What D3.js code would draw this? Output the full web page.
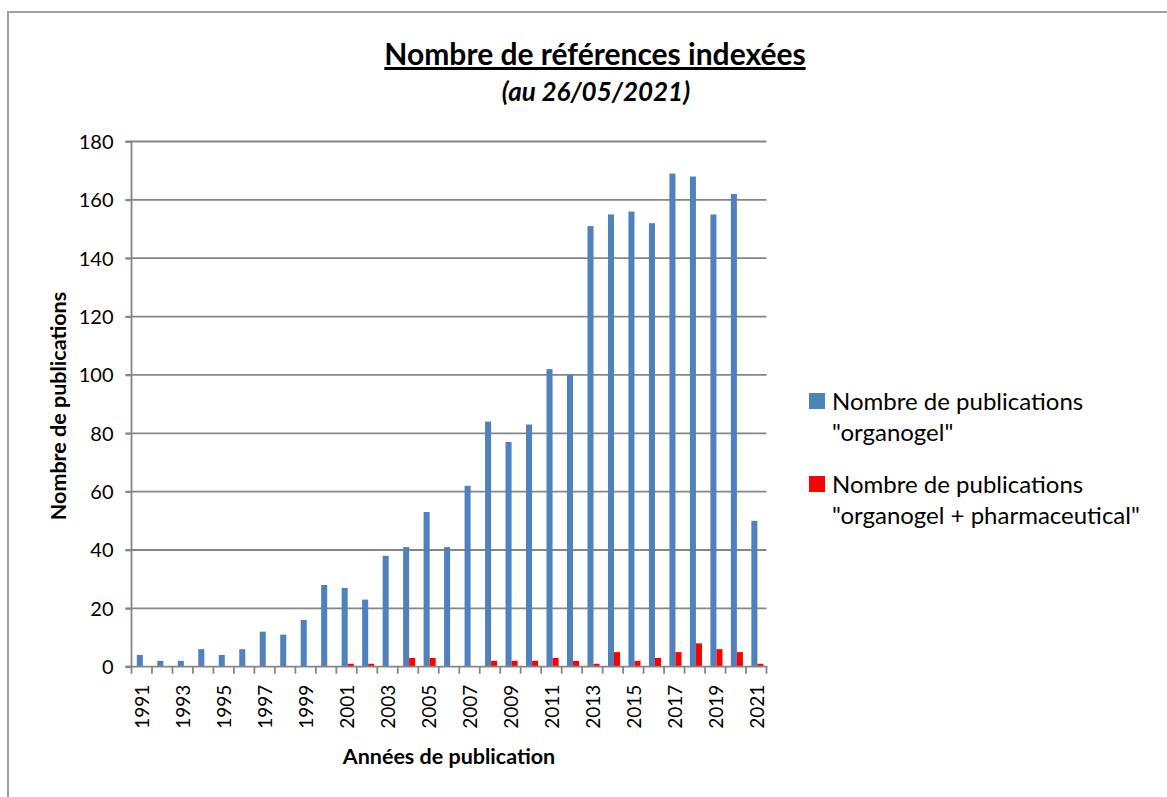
<!DOCTYPE html>
<html>
<head>
<meta charset="utf-8">
<script src="https://cdn.jsdelivr.net/npm/d3@7"></script>
<style>
  html, body { margin: 0; padding: 0; background: #fff; }
  svg { display: block; font-family: Lato, "Noto Sans", sans-serif; }
</style>
</head>
<body>
<svg id="chart" width="1167" height="797"></svg>
<script>
const years = [1991,1992,1993,1994,1995,1996,1997,1998,1999,2000,2001,2002,2003,2004,2005,2006,2007,2008,2009,2010,2011,2012,2013,2014,2015,2016,2017,2018,2019,2020,2021];
const organogel = [4,2,2,6,4,6,12,11,16,28,27,23,38,41,53,41,62,84,77,83,102,100,151,155,156,152,169,168,155,162,50];
const pharma = [0,0,0,0,0,0,0,0,0,0,1,1,0,3,3,0,0,2,2,2,3,2,1,5,2,3,5,8,6,5,1];
const seriesNames = ["Nombre de publications \"organogel\"", "Nombre de publications \"organogel + pharmaceutical\""];
const seriesColors = ["#4f81bd", "#ff0000"];
const yTicks = [0,20,40,60,80,100,120,140,160,180];
const titleText = "Nombre de références indexées";
const subtitleText = "(au 26/05/2021)";
const xTitle = "Années de publication";
const yTitle = "Nombre de publications";

const svg = d3.select("#chart");
const grey = "#868686";

// outer frame
svg.append("rect").attr("x", 8).attr("y", 12).attr("width", 1180).attr("height", 800)
  .attr("fill", "none").attr("stroke", "#a0a0a0").attr("stroke-width", 2);

const pLeft = 131.5, pRight = 766.5, pTop = 141.5, pBottom = 666.7;

const x = d3.scaleBand().domain(years).range([pLeft, pRight]).padding(0);
const bw = x.bandwidth();
const x1 = d3.scaleBand().domain([0, 1]).range([bw * 0.26, bw * 0.85]).padding(0);
const y = d3.scaleLinear().domain([0, 180]).range([pBottom, pTop]);

// gridlines
svg.append("g").selectAll("line").data(yTicks.filter(d => d > 0)).join("line")
  .attr("x1", pLeft - 6).attr("x2", pRight)
  .attr("y1", d => y(d)).attr("y2", d => y(d))
  .attr("stroke", grey).attr("stroke-width", 1.8);

// bars
const data = years.map((yr, i) => ({ yr, vals: [organogel[i], pharma[i]] }));
const groups = svg.append("g").selectAll("g").data(data).join("g")
  .attr("transform", d => `translate(${x(d.yr)},0)`);
groups.selectAll("rect").data(d => d.vals.map((v, k) => ({ v, k }))).join("rect")
  .attr("x", d => x1(d.k))
  .attr("width", x1.bandwidth())
  .attr("y", d => y(d.v))
  .attr("height", d => pBottom - y(d.v))
  .attr("fill", d => seriesColors[d.k]);

// y axis
const yAxis = d3.axisLeft(y).tickValues(yTicks).tickSize(6).tickPadding(12);
const yg = svg.append("g").attr("transform", `translate(${pLeft},0)`).call(yAxis);
yg.select(".domain").attr("stroke", grey).attr("stroke-width", 1.8).attr("d", `M-6,${pBottom}H0V${pTop}`);
yg.selectAll(".tick line").attr("stroke", grey).attr("stroke-width", 1.8);
yg.selectAll(".tick text").attr("font-size", 20).attr("fill", "#000").attr("font-family", "Lato, sans-serif").attr("dy", "0.35em");

// x axis baseline & ticks at category boundaries
const xg = svg.append("g");
xg.append("line").attr("x1", pLeft - 6).attr("x2", pRight + 1).attr("y1", pBottom).attr("y2", pBottom)
  .attr("stroke", grey).attr("stroke-width", 1.8);
const boundaries = years.map(yr => x(yr)).concat([x(years[years.length - 1]) + bw]);
xg.selectAll("line.tk").data(boundaries).join("line").attr("class", "tk")
  .attr("x1", d => d).attr("x2", d => d).attr("y1", pBottom).attr("y2", pBottom + 7)
  .attr("stroke", grey).attr("stroke-width", 1.8);
// x labels (every other year)
xg.selectAll("text").data(years.filter((d, i) => i % 2 === 0)).join("text")
  .attr("transform", d => `translate(${x(d) + bw / 2 + 7.5},${pBottom + 18}) rotate(-90)`)
  .attr("text-anchor", "end").attr("font-size", 19).attr("fill", "#000")
  .text(d => d);

// titles
svg.append("text").attr("x", 595).attr("y", 65).attr("text-anchor", "middle")
  .attr("font-size", 30).attr("font-weight", "bold").attr("text-decoration", "underline")
  .text(titleText);
svg.append("text").attr("x", 596).attr("y", 101).attr("text-anchor", "middle")
  .attr("font-size", 26).attr("font-weight", "bold").attr("font-style", "italic")
  .text(subtitleText);

svg.append("text").attr("x", 449).attr("y", 764).attr("text-anchor", "middle")
  .attr("font-size", 21.5).attr("font-weight", "bold").text(xTitle);
svg.append("text").attr("transform", "translate(66,406) rotate(-90)").attr("text-anchor", "middle")
  .attr("font-size", 21.5).attr("font-weight", "bold").text(yTitle);

// legend
const legendLines = [["Nombre de publications", "\"organogel\""], ["Nombre de publications", "\"organogel + pharmaceutical\""]];
const lg = svg.append("g").selectAll("g").data(seriesNames).join("g")
  .attr("transform", (d, i) => `translate(809,${393 + i * 83})`);
lg.append("rect").attr("width", 16).attr("height", 16).attr("fill", (d, i) => seriesColors[i]);
lg.each(function (d, i) {
  const t = d3.select(this).append("text").attr("x", 23).attr("y", 17).attr("font-size", 24).attr("fill", "#000");
  legendLines[i].forEach((ln, j) => t.append("tspan").attr("x", 23).attr("dy", j === 0 ? 0 : 31).text(ln));
});
</script>
</body>
</html>
